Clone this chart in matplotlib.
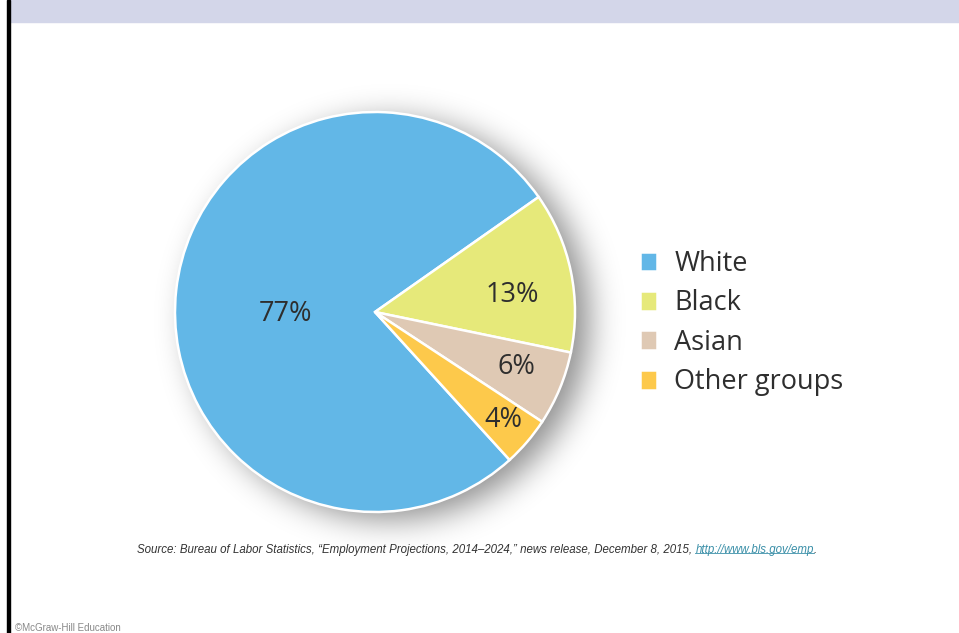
import matplotlib.pyplot as plt
from matplotlib.patches import Rectangle
import numpy as np

# Data
groups = ['White', 'Black', 'Asian', 'Other groups']
shares = [77, 13, 6, 4]
colors = ['#62b7e7', '#e6e97a', '#dfc9b4', '#fdc94b']
# label placement (fraction of radius, angle tweak in degrees)
label_r = [0.45, 0.69, 0.76, 0.84]
label_dt = [7.6, -4.7, 1.3, 0.3]

W, H = 959, 633
fig = plt.figure(figsize=(W / 100, H / 100), dpi=100)

# Slide decoration: top band and left border
fig.patches.append(Rectangle((8 / W, 1 - 22 / H), 1, 22 / H, transform=fig.transFigure,
                             color='#d3d6e9', zorder=0))
fig.patches.append(Rectangle((7 / W, 0), 2.5 / W, 1, transform=fig.transFigure,
                             color='black', zorder=1))

# Pie axes: centre (375, 312), radius 200 px
cx, cy, r = 375, 312, 200
ax = fig.add_axes([(cx - r) / W, (H - cy - r) / H, 2 * r / W, 2 * r / H])

# soft drop shadow: blurred disk shifted right/down
n, ext = 400, 1.4
g = np.linspace(-ext, ext, n)
X, Y = np.meshgrid(g, g)
disk = (((X - 0.075) ** 2 + (Y + 0.04) ** 2) <= 1.0).astype(float)
sig = 0.08 / (g[1] - g[0])
k = np.arange(-int(3 * sig), int(3 * sig) + 1)
kern = np.exp(-0.5 * (k / sig) ** 2)
kern /= kern.sum()
blur = np.apply_along_axis(lambda v: np.convolve(v, kern, mode='same'), 0, disk)
blur = np.apply_along_axis(lambda v: np.convolve(v, kern, mode='same'), 1, blur)
rgba = np.zeros((n, n, 4))
rgba[..., 3] = 0.45 * blur
ax.imshow(rgba, extent=(-ext, ext, -ext, ext), origin='lower', zorder=0,
          interpolation='bilinear', clip_on=False)

wedges, _ = ax.pie(shares, colors=colors, startangle=-47.7, counterclock=False,
                   radius=1.0, wedgeprops=dict(edgecolor='white', linewidth=1.8))
for w in wedges:
    w.set_zorder(2)
ax.set_xlim(-1, 1)
ax.set_ylim(-1, 1)
ax.axis('off')

for w, s, lr, dt in zip(wedges, shares, label_r, label_dt):
    mid = np.deg2rad((w.theta1 + w.theta2) / 2 + dt)
    ax.text(lr * np.cos(mid), lr * np.sin(mid), f'{s}%', ha='center', va='center',
            fontsize=19.5, family='Open Sans', color='#2e2e2e', zorder=3)

fig.legend(wedges, groups, loc='upper left', bbox_to_anchor=(640 / W, 1 - 250 / H),
           frameon=False, prop=dict(family='Open Sans', size=19.5), labelspacing=0.42,
           borderpad=0, borderaxespad=0,
           handlelength=0.64, handleheight=0.75, handletextpad=0.62, labelcolor='#2e2e2e')

# Source line: main text then the link right after it
src = fig.text(137 / W, 1 - 550 / H,
               'Source: Bureau of Labor Statistics, \u201cEmployment Projections, 2014\u20132024,\u201d '
               'news release, December 8, 2015, ',
               ha='left', va='center', fontsize=8.3, style='italic', family='Liberation Sans',
               color='#333333')
fig.canvas.draw()
bb = src.get_window_extent().transformed(fig.transFigure.inverted())
link = fig.text(bb.x1, 1 - 550 / H, 'http://www.bls.gov/emp', ha='left', va='center',
                fontsize=8.3, style='italic', family='Liberation Sans', color='#3a8fa8')
fig.canvas.draw()
lb = link.get_window_extent().transformed(fig.transFigure.inverted())
fig.add_artist(plt.Line2D([lb.x0, lb.x1], [lb.y0 + 0.004, lb.y0 + 0.004],
                          transform=fig.transFigure, color='#3a8fa8', lw=0.6))
fig.text(lb.x1, 1 - 550 / H, '.', ha='left', va='center', fontsize=8.3, style='italic',
         family='Liberation Sans', color='#333333')

fig.text(15 / W, 1 - 628 / H, '\u00a9McGraw-Hill Education', ha='left', va='center',
         fontsize=7, family='Liberation Sans', color='#888888')

fig.savefig('out.png', dpi=100)
